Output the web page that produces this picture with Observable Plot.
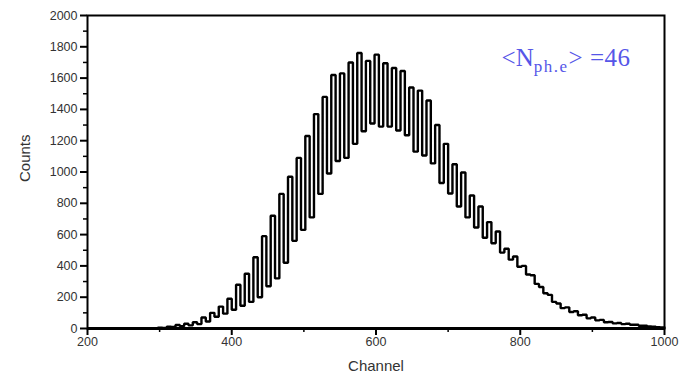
<!DOCTYPE html>
<html><head><meta charset="utf-8">
<script src="https://cdn.jsdelivr.net/npm/d3@7"></script>
<script src="https://cdn.jsdelivr.net/npm/@observablehq/plot@0.6"></script>
<style>body{margin:0;background:#fff}</style>
</head><body><div id="chart"></div>
<script>
// Histogram bins (channel start + width) and counts
const binStart = 298;
const binWidth = 6;
const counts = [
  5, 4, 12, 10, 22, 15, 30, 20, 40, 28,
  70, 45, 100, 75, 140, 95, 190, 120, 280, 145,
  350, 170, 455, 200, 590, 270, 720, 320, 860, 420,
  970, 560, 1090, 630, 1230, 710, 1370, 860, 1480, 990,
  1620, 1070, 1630, 1090, 1700, 1180, 1760, 1260, 1710, 1310,
  1750, 1290, 1695, 1290, 1665, 1265, 1645, 1235, 1540, 1130,
  1520, 1105, 1457, 1055, 1300, 930, 1180, 863, 1050, 780,
  997, 710, 850, 645, 780, 580, 680, 545, 620, 485,
  510, 440, 460, 395, 400, 345, 340, 285, 265, 225,
  215, 170, 160, 130, 135, 105, 110, 85, 88, 65,
  70, 52, 55, 40, 42, 33, 35, 28, 30, 24,
  24, 18, 18, 13, 12, 8, 7
];
const xMajorTicks = [200, 400, 600, 800, 1000];
const xMinorTicks = [300, 500, 700, 900];
const yMajorTicks = [0, 200, 400, 600, 800, 1000, 1200, 1400, 1600, 1800, 2000];
const yMinorTicks = [100, 300, 500, 700, 900, 1100, 1300, 1500, 1700, 1900];
const xTitle = "Channel";
const yTitle = "Counts";
const annMain = "<N";
const annSub = "ph.e";
const annTail = "> =46";

const pts = counts.map((c, i) => ({channel: binStart + i * binWidth, count: c}));
pts.push({channel: binStart + counts.length * binWidth, count: counts[counts.length - 1]});

const chart = Plot.plot({
  width: 686, height: 378,
  marginLeft: 87, marginRight: 22, marginTop: 15, marginBottom: 50,
  x: {domain: [200, 1000]},
  y: {domain: [0, 2000]},
  style: {fontFamily: "'Liberation Sans', Arial, sans-serif", background: "#fff"},
  marks: [
    Plot.lineY(pts, {x: "channel", y: "count", curve: "step-after", stroke: "#000", strokeWidth: 2.4, strokeLinejoin: "miter"}),
    Plot.axisX({ticks: xMajorTicks, tickSize: 7, tickPadding: 2, tickFormat: d => String(d), label: null, fontSize: 12.5, stroke: "#000", strokeWidth: 2, fill: "#333"}),
    Plot.axisX({ticks: xMinorTicks, tickSize: 4, tickFormat: null, text: null, label: null, stroke: "#000", strokeWidth: 1.5}),
    Plot.axisY({ticks: yMajorTicks, tickSize: 7, tickPadding: 3, tickFormat: d => String(d), label: null, fontSize: 12.5, stroke: "#000", strokeWidth: 2, fill: "#333"}),
    Plot.axisY({ticks: yMinorTicks, tickSize: 4, tickFormat: null, text: null, label: null, stroke: "#000", strokeWidth: 1.5}),
    Plot.frame({stroke: "#000", strokeWidth: 2}),
    Plot.ruleY([0], {stroke: "#000", strokeWidth: 3}),
    Plot.text([yTitle], {frameAnchor: "left", dx: -62, dy: 10, rotate: -90, fontSize: 15, fill: "#333"}),
    Plot.text([xTitle], {frameAnchor: "bottom", dy: 42, fontSize: 15, fill: "#333"}),
    Plot.text([annMain], {frameAnchor: "top-right", dx: -34, dy: 33, textAnchor: "end", lineAnchor: "top",
      fontFamily: "'Liberation Serif', 'Times New Roman', serif", fontSize: 25, fill: "#5656e8", className: "ann"})
  ]
});
document.getElementById("chart").appendChild(chart);

// build subscript for annotation
const t = chart.querySelector(".ann text");
if (t) {
  t.textContent = "";
  const ns = "http://www.w3.org/2000/svg";
  const a = document.createElementNS(ns, "tspan"); a.textContent = annMain; t.appendChild(a);
  const b = document.createElementNS(ns, "tspan"); b.textContent = annSub;
  b.setAttribute("dy", "6"); b.setAttribute("font-size", "17"); b.setAttribute("letter-spacing", "1.5"); t.appendChild(b);
  const c = document.createElementNS(ns, "tspan"); c.textContent = annTail;
  c.setAttribute("dy", "-6"); c.setAttribute("letter-spacing", "0.5"); t.appendChild(c);
}
</script>
</body></html>
